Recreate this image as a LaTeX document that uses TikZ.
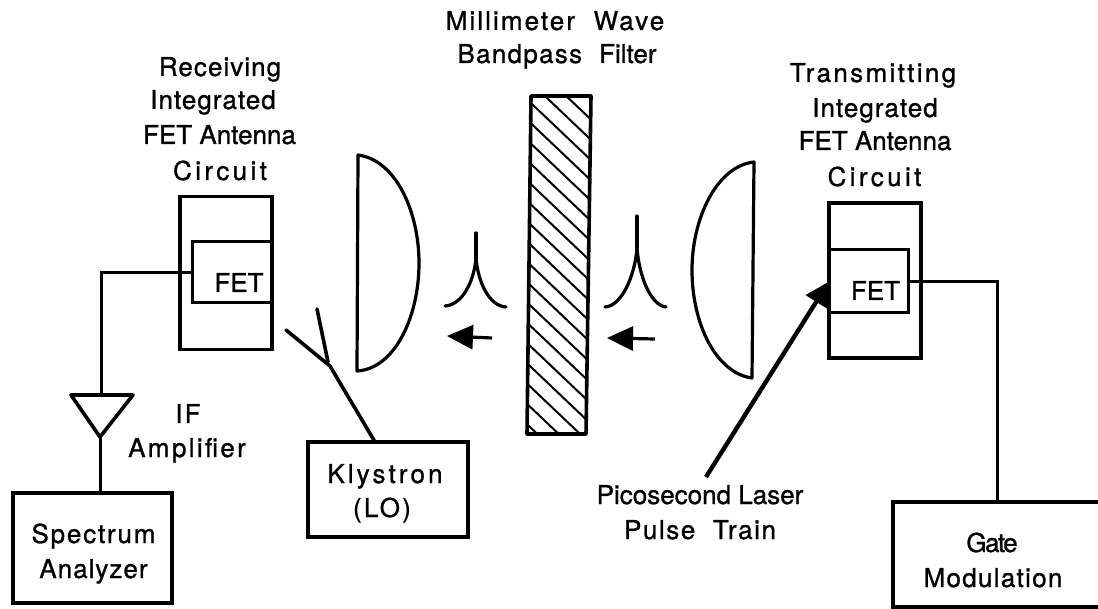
\documentclass[tikz,border=0pt]{standalone}
\usepackage{fontspec}
\usetikzlibrary{arrows.meta}
\setmainfont{TeX Gyre Heros}
% text whose baseline lies dy below and whose centre lies dx right of the node's centre
\newcommand{\textat}[3]{\raisebox{-#2pt}[0pt][0pt]{\makebox[0pt]{\hspace*{#1pt}\hspace*{#1pt}#3}}}
\newcommand{\ls}[2]{{\addfontfeature{LetterSpace=#1}#2}}
\tikzset{
  every node/.style={font=\fontsize{26}{30}\selectfont\addfontfeature{FakeBold=1},text=black,inner sep=0pt,outer sep=0pt},
  boxed/.style={draw=black,line width=3.2pt,fill=white,rectangle},
  thinbox/.style={draw=black,line width=3pt,rectangle},
  wire/.style={draw=black,line width=3pt},
  heavy/.style={draw=black,line width=3.6pt,line cap=round},
  lens/.style={draw=black,line width=3.2pt,line join=round},
  cusp/.style={draw=black,line width=3.2pt,line cap=round},
  wave/.style={draw=black,line width=3.2pt,-{Triangle[length=26pt,width=24pt]}},
  label/.style={anchor=base}
}
\begin{document}
\begin{tikzpicture}[x=1pt,y=-1pt]
\clip (0,0) rectangle (1098,609);
\fill[white] (0,0) rectangle (1098,609);

% receiving circuit
\node[boxed,minimum width=92pt,minimum height=153pt] (rxbox) at (226,273) {};
\node[thinbox,minimum width=80pt,minimum height=61pt] (fetL) at (232,272.5) {\textat{7}{19.5}{FET}};
% transmitting circuit
\node[boxed,minimum width=92pt,minimum height=155pt] (txbox) at (875,280.5) {};
\node[thinbox,minimum width=79pt,minimum height=63pt] (fetR) at (868.5,281.5) {\textat{7}{18.5}{FET}};

% boxes
\node[boxed,minimum width=159pt,minimum height=110pt] (spec) at (92.5,548) {\textat{1}{-5}{\ls{7}{Spectrum}}\textat{1}{30}{\ls{4}{Analyzer}}};
\node[boxed,minimum width=160pt,minimum height=95pt] (klys) at (388,489.5) {\textat{-3}{-6.5}{\ls{12}{Klystron}}\textat{-6}{27.5}{\ls{9}{(LO)}}};
\node[boxed,minimum width=212pt,minimum height=105pt] (gate) at (999,554.5) {\textat{-7}{-2.5}{\ls{-6}{Gate}}\textat{-6}{32.5}{\ls{5}{Modulation}}};

% amplifier
\coordinate (ampL) at (71,395);
\coordinate (ampR) at (133,395);
\coordinate (ampTip) at (100,437);
\coordinate (ampIn) at (101,395);
\draw[lens,line width=3.6pt] (ampL) -- (ampR) -- (ampTip) -- cycle;
\draw[wire] (fetL.west) -| (ampIn);
\draw[wire] (ampTip) -- (ampTip |- spec.north);

% gate wire
\draw[wire] (fetR.east) -| (gate.north -| 997,0);

% horn on the klystron
\coordinate (hornJoin) at (330,366);
\coordinate (hornA) at (286,330);
\coordinate (hornB) at (317,309);
\draw[heavy,line cap=butt] (klys.north -| 375,0) -- (hornJoin);
\draw[heavy] (hornJoin) -- (hornA);
\draw[heavy] (328,362) -- (hornB);

% lenses
\draw[lens] (358,155) .. controls (396,160) and (419,212) .. (419,263)
  .. controls (419,318) and (394,369) .. (357,371) -- cycle;
\draw[lens] (754,162) .. controls (717,166) and (692,218) .. (692,270)
  .. controls (692,324) and (716,373) .. (752,378) -- cycle;

% filter
\coordinate (fNW) at (531,96);
\coordinate (fNE) at (591,96);
\coordinate (fSE) at (586,434);
\coordinate (fSW) at (527,434);
\begin{scope}
\clip (fNW) -- (fNE) -- (fSE) -- (fSW) -- cycle;
\foreach \k in {-3,...,15}
  \draw[black,line width=2pt] (520,{113+20.3*\k}) -- (600,{189+20.3*\k});
\end{scope}
\draw[lens,line width=3.6pt] (fNW) -- (fNE) -- (fSE) -- (fSW) -- cycle;

% beam cusps
\coordinate (c1top) at (476,233);
\coordinate (c1mid) at (476,258);
\coordinate (c1l) at (445,306);
\coordinate (c1r) at (506,307);
\draw[cusp] (c1top) -- (c1mid);
\draw[cusp] (c1l) .. controls (462,305) and (474,282) .. (c1mid) .. controls (478,282) and (489,306) .. (c1r);
\coordinate (c2top) at (637,216);
\coordinate (c2mid) at (637,248);
\coordinate (c2l) at (605,307);
\coordinate (c2r) at (666,307);
\draw[cusp] (c2top) -- (c2mid);
\draw[cusp] (c2l) .. controls (622,306) and (635,275) .. (c2mid) .. controls (639,275) and (650,305) .. (c2r);

% beam arrows
\coordinate (a1from) at (492,338);
\coordinate (a1to) at (447,336);
\coordinate (a2from) at (655,339);
\coordinate (a2to) at (607,338);
\draw[wave] (a1from) -- (a1to);
\draw[wave] (a2from) -- (a2to);

% laser
\coordinate (laserFrom) at (706,477);
\draw[draw=black,line width=4.4pt,-{Triangle[length=24pt,width=24pt]}] (laserFrom) -- (fetR.west);

% labels
\node[label] (t1) at (220,76) {\ls{4}{Receiving}};
\node[label] (t2) at (213,109) {\ls{4}{Integrated}};
\node[label] (t3) at (219.5,144) {FET Antenna};
\node[label] (t4) at (220,180) {\ls{13}{Circuit}};
\node[label] (m1) at (555,30) {\ls{8}{Millimeter\ \ Wave}};
\node[label] (m2) at (557,63) {\ls{5}{Bandpass}\hspace{17pt}Filter};
\node[label] (r1) at (873,82) {\ls{9}{Transmitting}};
\node[label] (r2) at (875,117) {\ls{4}{Integrated}};
\node[label] (r3) at (875,150) {FET Antenna};
\node[label] (r4) at (874.5,186) {\ls{13}{Circuit}};
\node[label] (if1) at (188,423) {\ls{8}{IF}};
\node[label] (if2) at (187,457) {\ls{9}{Amplifier}};
\node[label] (p1) at (700,504) {Picosecond Laser};
\node[label] (p2) at (700,539) {\ls{6}{Pulse\ \ Train}};
\end{tikzpicture}
\end{document}
